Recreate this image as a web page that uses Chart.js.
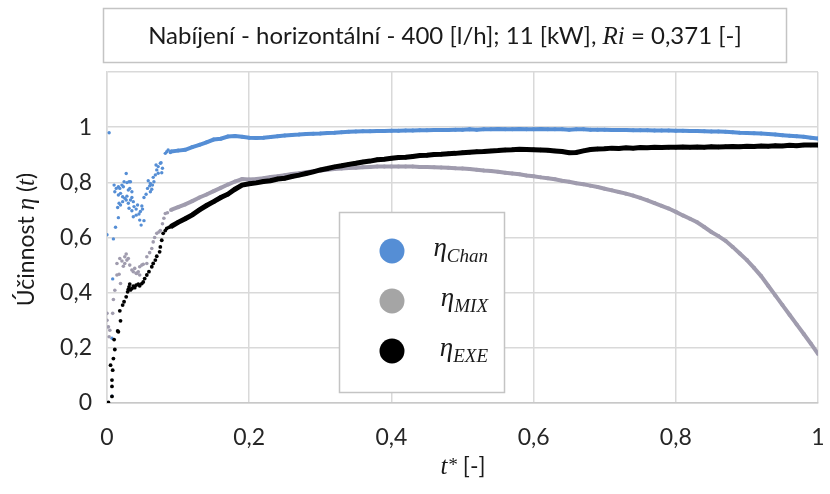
<!DOCTYPE html>
<html>
<head>
<meta charset="utf-8">
<script src="https://cdn.jsdelivr.net/npm/chart.js@4.4.1/dist/chart.umd.min.js"></script>
<style>
  html, body { margin: 0; padding: 0; background: #ffffff; }
  #wrap { width: 830px; height: 494px; }
</style>
</head>
<body>
<div id="wrap"><canvas id="graf" width="830" height="494"></canvas></div>
<script>
// ---------------------------------------------------------------------------
// Data (t* on x, efficiency on y)
// ---------------------------------------------------------------------------
var xTicks = [0, 0.2, 0.4, 0.6, 0.8, 1];
var yTicks = [0, 0.2, 0.4, 0.6, 0.8, 1, 1.2];

// smooth part of the three series, common t* values
var tSmooth = [
  0.09, 0.10, 0.11, 0.12, 0.13, 0.14, 0.15, 0.16, 0.17, 0.18,
  0.19, 0.20, 0.21, 0.22, 0.23, 0.24, 0.25, 0.26, 0.27, 0.28,
  0.29, 0.30, 0.31, 0.32, 0.33, 0.34, 0.35, 0.36, 0.37, 0.38,
  0.39, 0.40, 0.41, 0.42, 0.43, 0.44, 0.45, 0.46, 0.47, 0.48,
  0.49, 0.50, 0.51, 0.52, 0.53, 0.54, 0.55, 0.56, 0.57, 0.58,
  0.59, 0.60, 0.61, 0.62, 0.63, 0.64, 0.65, 0.66, 0.67, 0.68,
  0.69, 0.70, 0.71, 0.72, 0.73, 0.74, 0.75, 0.76, 0.77, 0.78,
  0.79, 0.80, 0.81, 0.82, 0.83, 0.84, 0.85, 0.86, 0.87, 0.88,
  0.89, 0.90, 0.91, 0.92, 0.93, 0.94, 0.95, 0.96, 0.97, 0.98,
  0.99, 1.00
];

var etaChan = [
  0.912, 0.915, 0.918, 0.928, 0.936, 0.945, 0.955, 0.958, 0.966, 0.968,
  0.965, 0.962, 0.961, 0.962, 0.964, 0.967, 0.970, 0.972, 0.973, 0.975,
  0.976, 0.977, 0.979, 0.980, 0.982, 0.983, 0.984, 0.985, 0.985, 0.986,
  0.986, 0.987, 0.987, 0.988, 0.988, 0.989, 0.989, 0.990, 0.990, 0.990,
  0.991, 0.991, 0.992, 0.991, 0.992, 0.992, 0.993, 0.992, 0.992, 0.993,
  0.992, 0.992, 0.993, 0.992, 0.992, 0.992, 0.991, 0.992, 0.992, 0.991,
  0.991, 0.991, 0.990, 0.990, 0.990, 0.989, 0.989, 0.989, 0.988, 0.988,
  0.988, 0.987, 0.987, 0.986, 0.986, 0.985, 0.984, 0.984, 0.983, 0.982,
  0.980, 0.979, 0.978, 0.977, 0.975, 0.973, 0.971, 0.969, 0.967, 0.965,
  0.962, 0.959
];

var etaMix = [
  0.700, 0.710, 0.720, 0.732, 0.745, 0.756, 0.768, 0.780, 0.792, 0.803,
  0.812, 0.810, 0.812, 0.815, 0.819, 0.822, 0.826, 0.830, 0.833, 0.837,
  0.840, 0.843, 0.846, 0.848, 0.850, 0.852, 0.853, 0.855, 0.856, 0.857,
  0.857, 0.857, 0.857, 0.857, 0.857, 0.856, 0.856, 0.855, 0.854, 0.853,
  0.851, 0.850, 0.848, 0.846, 0.843, 0.841, 0.838, 0.835, 0.832, 0.829,
  0.825, 0.822, 0.818, 0.815, 0.811, 0.806, 0.802, 0.797, 0.793, 0.788,
  0.783, 0.777, 0.771, 0.765, 0.759, 0.752, 0.744, 0.735, 0.725, 0.715,
  0.705, 0.693, 0.680, 0.668, 0.655, 0.638, 0.620, 0.605, 0.588, 0.566,
  0.542, 0.518, 0.490, 0.460, 0.425, 0.390, 0.355, 0.320, 0.285, 0.250,
  0.215, 0.178
];

var etaExe = [
  0.640, 0.655, 0.668, 0.682, 0.700, 0.716, 0.730, 0.745, 0.757, 0.775,
  0.790, 0.795, 0.798, 0.803, 0.806, 0.812, 0.815, 0.821, 0.826, 0.832,
  0.838, 0.845, 0.850, 0.856, 0.860, 0.865, 0.869, 0.874, 0.877, 0.882,
  0.884, 0.887, 0.890, 0.891, 0.894, 0.897, 0.898, 0.901, 0.902, 0.904,
  0.905, 0.907, 0.909, 0.911, 0.912, 0.914, 0.915, 0.917, 0.918, 0.920,
  0.919, 0.918, 0.917, 0.916, 0.914, 0.912, 0.907, 0.908, 0.914, 0.919,
  0.921, 0.922, 0.924, 0.923, 0.925, 0.924, 0.926, 0.925, 0.927, 0.926,
  0.927, 0.927, 0.928, 0.927, 0.928, 0.927, 0.929, 0.928, 0.929, 0.930,
  0.929, 0.931, 0.930, 0.932, 0.931, 0.933, 0.932, 0.934, 0.933, 0.935,
  0.935, 0.935
];

// scattered start of each series, [t*, eta]
var chanStart = [
  [0, 0], [0.007, 0.025], [0.007, 0.235], [0.008, 0.45], [0, 0.61],
  [0.009, 0.595], [0.003, 0.98], [0.012, 0.637], [0.016, 0.672], [0.027, 0.832],
  [0.010, 0.790], [0.013, 0.778], [0.011, 0.766], [0.016, 0.784], [0.018, 0.778],
  [0.021, 0.790], [0.023, 0.784], [0.024, 0.802], [0.028, 0.799], [0.031, 0.802],
  [0.033, 0.802], [0.016, 0.754], [0.019, 0.760], [0.022, 0.748], [0.025, 0.742],
  [0.028, 0.750], [0.030, 0.772], [0.032, 0.778], [0.035, 0.766], [0.017, 0.724],
  [0.015, 0.709], [0.019, 0.718], [0.022, 0.730], [0.027, 0.736], [0.030, 0.724],
  [0.033, 0.736], [0.035, 0.745], [0.037, 0.730], [0.031, 0.706], [0.035, 0.697],
  [0.038, 0.712], [0.041, 0.703], [0.043, 0.718], [0.037, 0.675], [0.041, 0.681],
  [0.045, 0.685], [0.047, 0.694], [0.046, 0.663], [0.048, 0.645], [0.052, 0.661],
  [0.050, 0.703], [0.049, 0.714], [0.052, 0.745], [0.055, 0.757], [0.057, 0.778],
  [0.060, 0.787], [0.058, 0.806], [0.061, 0.796], [0.061, 0.766], [0.063, 0.775],
  [0.064, 0.790], [0.066, 0.802], [0.065, 0.818], [0.068, 0.827], [0.070, 0.845],
  [0.072, 0.857], [0.075, 0.869], [0.069, 0.863], [0.072, 0.833], [0.077, 0.835],
  [0.078, 0.851], [0.076, 0.871], [0.082, 0.905], [0.084, 0.911], [0.086, 0.917],
  [0.089, 0.908]
];

var mixStart = [
  [0, 0.325], [0.008, 0.325], [0.002, 0.276], [0.004, 0.264], [0, 0.300],
  [0.003, 0.240], [0.009, 0.375], [0.011, 0.409], [0.014, 0.464], [0.017, 0.467],
  [0.019, 0.433], [0.023, 0.496], [0.025, 0.506], [0.028, 0.518], [0.030, 0.524],
  [0.032, 0.500], [0.035, 0.482], [0.039, 0.488], [0.042, 0.470], [0.044, 0.476],
  [0.046, 0.464], [0.049, 0.500], [0.051, 0.503], [0.056, 0.530], [0.060, 0.545],
  [0.063, 0.560], [0.065, 0.584], [0.067, 0.600], [0.070, 0.615], [0.073, 0.620],
  [0.075, 0.625], [0.078, 0.650], [0.080, 0.670], [0.082, 0.687], [0.085, 0.690],
  [0.014, 0.506], [0.018, 0.524], [0.025, 0.530], [0.046, 0.494], [0.056, 0.506],
  [0.037, 0.476], [0.041, 0.470], [0.021, 0.515], [0.027, 0.540]
];

var exeStart = [
  [0, 0], [0.001, 0], [0.002, 0.002], [0.007, 0.024], [0.007, 0.060],
  [0.007, 0.083], [0.008, 0.119], [0.005, 0.137], [0.009, 0.161], [0.011, 0.194],
  [0.010, 0.230], [0.015, 0.261], [0.016, 0.258], [0.019, 0.298], [0.018, 0.334],
  [0.022, 0.355], [0.024, 0.367], [0.027, 0.385], [0.029, 0.403], [0.031, 0.421],
  [0.032, 0.431], [0.035, 0.415], [0.037, 0.424], [0.041, 0.427], [0.044, 0.431],
  [0.049, 0.433], [0.051, 0.439], [0.053, 0.451], [0.056, 0.464], [0.059, 0.476],
  [0.063, 0.494], [0.065, 0.506], [0.068, 0.518], [0.070, 0.532], [0.074, 0.548],
  [0.075, 0.566], [0.077, 0.590], [0.079, 0.615], [0.082, 0.625], [0.084, 0.633],
  [0.087, 0.637], [0.033, 0.410], [0.039, 0.418], [0.046, 0.425], [0.030, 0.412]
];

// colours
var cBlue = '#558ed5';
var cGrey = '#a09cae';
var cGreyLegend = '#a5a5a5';
var cBlack = '#000000';

// ---------------------------------------------------------------------------
function pairs(arr) {
  return arr.map(function (p) { return { x: p[0], y: p[1] }; });
}
function zipXY(xs, ys) {
  return xs.map(function (x, i) { return { x: x, y: ys[i] }; });
}
function fmt(v) {
  return String(Math.round(v * 10) / 10).replace('.', ',');
}

var fSans = 'Lato, "Open Sans", sans-serif';
var fMath = '"Liberation Serif", "DejaVu Serif", serif';

// draws text made of several font runs; align 'center' or 'right'
function richText(ctx, parts, x, y, align) {
  var w = 0;
  parts.forEach(function (p) {
    ctx.font = p.f;
    p.w = ctx.measureText(p.t).width;
    w += p.w;
  });
  var cx = align === 'right' ? x - w : x - w / 2;
  ctx.textAlign = 'left';
  ctx.textBaseline = 'alphabetic';
  parts.forEach(function (p) {
    ctx.font = p.f;
    ctx.fillText(p.t, cx, y + (p.dy || 0));
    cx += p.w;
  });
}

// title box, axis titles and legend box drawn on the canvas
var decorPlugin = {
  id: 'decor',
  afterDraw: function (chart) {
    var ctx = chart.ctx;
    var area = chart.chartArea;
    ctx.save();

    // title box
    ctx.fillStyle = '#ffffff';
    ctx.fillRect(103, 8, 683, 54);
    ctx.strokeStyle = '#c4c4c4';
    ctx.lineWidth = 1.5;
    ctx.strokeRect(103.5, 8.5, 683, 54);
    ctx.fillStyle = '#1a1a1a';
    richText(ctx, [
      { t: 'Nabíjení - horizontální - 400 [l/h]; 11 [kW], ', f: '24px ' + fSans },
      { t: 'Ri', f: 'italic 25px ' + fMath },
      { t: ' = 0,371 [-]', f: '24px ' + fSans }
    ], 445, 44, 'center');

    // y axis title (rotated)
    ctx.save();
    ctx.translate(34, (area.top + area.bottom) / 2 + 2);
    ctx.rotate(-Math.PI / 2);
    richText(ctx, [
      { t: 'Účinnost ', f: '23px ' + fSans },
      { t: 'η', f: 'italic 25px ' + fMath },
      { t: ' (', f: '23px ' + fSans },
      { t: 't', f: 'italic 25px ' + fMath },
      { t: ')', f: '23px ' + fSans }
    ], 0, 0, 'center');
    ctx.restore();

    // x axis title
    richText(ctx, [
      { t: 't', f: 'italic 25px ' + fMath },
      { t: '*', f: 'italic 19px ' + fMath, dy: -3 },
      { t: ' [-]', f: '23px ' + fSans }
    ], 463, 474, 'center');

    // legend box
    ctx.fillStyle = '#ffffff';
    ctx.fillRect(339, 212, 165, 180);
    ctx.strokeStyle = '#c4c4c4';
    ctx.lineWidth = 1.5;
    ctx.strokeRect(339.5, 212.5, 165, 180);

    var rows = [
      { c: cBlue, sub: 'Chan', y: 251 },
      { c: cGreyLegend, sub: 'MIX', y: 301 },
      { c: cBlack, sub: 'EXE', y: 351 }
    ];
    rows.forEach(function (r) {
      ctx.beginPath();
      ctx.arc(392, r.y, 12.5, 0, Math.PI * 2);
      ctx.fillStyle = r.c;
      ctx.fill();
      ctx.fillStyle = '#1a1a1a';
      richText(ctx, [
        { t: 'η', f: 'italic 27px ' + fMath },
        { t: r.sub, f: 'italic 19px ' + fMath, dy: 6 }
      ], 488, r.y + 5, 'right');
    });
    ctx.restore();
  }
};

new Chart(document.getElementById('graf').getContext('2d'), {
  type: 'scatter',
  data: {
    datasets: [
      { data: pairs(exeStart), backgroundColor: cBlack, borderColor: cBlack,
        pointRadius: 1.9, pointBorderWidth: 0, order: 0 },
      { data: zipXY(tSmooth, etaExe), backgroundColor: cBlack, borderColor: cBlack,
        showLine: true, borderWidth: 5, pointRadius: 2.2, pointBorderWidth: 0, order: 0 },
      { data: pairs(mixStart), backgroundColor: cGrey, borderColor: cGrey,
        pointRadius: 1.8, pointBorderWidth: 0, order: 1 },
      { data: zipXY(tSmooth, etaMix), backgroundColor: cGrey, borderColor: cGrey,
        showLine: true, borderWidth: 4, pointRadius: 2, pointBorderWidth: 0, order: 1 },
      { data: pairs(chanStart), backgroundColor: cBlue, borderColor: cBlue,
        pointRadius: 1.7, pointBorderWidth: 0, order: 2 },
      { data: zipXY(tSmooth, etaChan), backgroundColor: cBlue, borderColor: cBlue,
        showLine: true, borderWidth: 4, pointRadius: 2, pointBorderWidth: 0, order: 2 }
    ]
  },
  options: {
    responsive: false,
    animation: false,
    devicePixelRatio: 1,
    layout: { padding: { top: 72, right: 12, left: 0, bottom: 0 } },
    plugins: {
      legend: { display: false },
      tooltip: { enabled: false },
      title: { display: false }
    },
    scales: {
      x: {
        type: 'linear',
        min: 0,
        max: 1,
        afterBuildTicks: function (axis) {
          axis.ticks = xTicks.map(function (v) { return { value: v }; });
        },
        afterFit: function (axis) {
          axis.height = 91;
          axis.paddingLeft = 0;
          axis.paddingRight = 0;
        },
        grid: { color: '#d9d9d9', lineWidth: 1.5, drawTicks: false },
        border: { display: true, color: '#c8c8c8', width: 1.5 },
        ticks: {
          padding: 21,
          color: '#262626',
          font: { family: fSans, size: 23 },
          maxRotation: 0,
          callback: function (v) { return fmt(v); }
        }
      },
      y: {
        type: 'linear',
        min: 0,
        max: 1.2,
        afterBuildTicks: function (axis) {
          axis.ticks = yTicks.map(function (v) { return { value: v }; });
        },
        afterFit: function (axis) {
          axis.width = 107;
          axis.paddingTop = 0;
          axis.paddingBottom = 0;
        },
        grid: { color: '#d9d9d9', lineWidth: 1.5, drawTicks: false },
        border: { display: true, color: '#d9d9d9', width: 1.5 },
        ticks: {
          padding: 15,
          color: '#262626',
          font: { family: fSans, size: 23 },
          callback: function (v) { return v > 1.1 ? '' : fmt(v); }
        }
      }
    }
  },
  plugins: [decorPlugin]
});
</script>
</body>
</html>
